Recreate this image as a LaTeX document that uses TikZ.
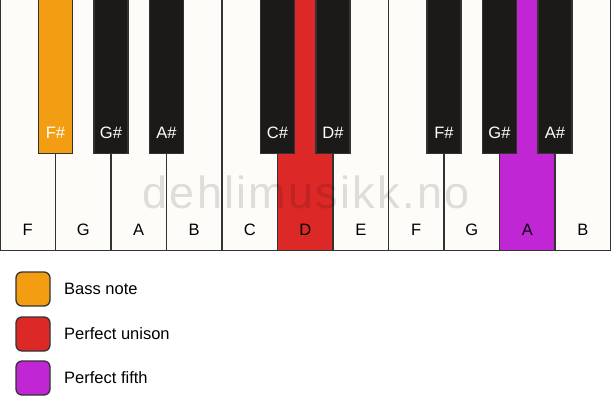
\documentclass[tikz,border=0pt]{standalone}
\usepackage{fontspec}
\setmainfont{Liberation Sans}
\definecolor{keywhite}{HTML}{FDFCF9}
\definecolor{keyblack}{HTML}{1B1A19}
\definecolor{keyedge}{HTML}{333333}
\definecolor{bassorange}{HTML}{F39E12}
\definecolor{unisonred}{HTML}{DD2828}
\definecolor{fifthpurple}{HTML}{C026D3}
\tikzset{
  whitekey/.style={draw=keyedge, line width=1.3pt, fill=keywhite, minimum width=55.5pt, minimum height=255pt, inner sep=0pt, anchor=north},
  blackkey/.style={draw=keyedge, line width=1.3pt, fill=keyblack, minimum width=34pt, minimum height=158pt, inner sep=0pt, anchor=north},
  keylabel/.style={font=\fontsize{16.5}{19}\selectfont, inner sep=0pt},
  legendbox/.style={draw=keyedge, line width=1.3pt, rounded corners=6pt, minimum size=34pt, inner sep=0pt},
}
\begin{document}
\begin{tikzpicture}[x=1pt,y=-1pt]
  \useasboundingbox (0,0) rectangle (611,417);
  % white keys
  \foreach \n/\name/\col [count=\i from 0] in {F1/F/keywhite, G1/G/keywhite, A1/A/keywhite, B1/B/keywhite, C2/C/keywhite, D2/D/unisonred, E2/E/keywhite, F2/F/keywhite, G2/G/keywhite, A2/A/fifthpurple, B2/B/keywhite}{
    \node[whitekey, fill=\col] (\n) at (27.75+55.5*\i,-5) {};
    \node[keylabel] (\n-l) at (27.75+55.5*\i,230) {\name};
  }
  % black keys
  \foreach \n/\name/\col/\x in {Fs1/F\#/bassorange/55.5, Gs1/G\#/keyblack/111, As1/A\#/keyblack/166.5, Cs2/C\#/keyblack/277.5, Ds2/D\#/keyblack/333, Fs2/F\#/keyblack/444, Gs2/G\#/keyblack/499.5, As2/A\#/keyblack/555}{
    \node[blackkey, fill=\col] (\n) at (\x,-5) {};
    \node[keylabel, text=white] (\n-l) at (\x,133) {\name};
  }
  \node[font=\fontsize{45}{50}\selectfont\addfontfeature{LetterSpace=5}, text=black, text opacity=0.12, inner sep=0pt] (mark) at (306,192) {dehlimusikk.no};
  % legend
  \node[legendbox, fill=bassorange] (bass) at (33,289) {};
  \node[legendbox, fill=unisonred] (unison) at (33,334) {};
  \node[legendbox, fill=fifthpurple] (fifth) at (33,378) {};
  \node[keylabel, anchor=west] (bass-t) at (64,289) {Bass note};
  \node[keylabel, anchor=west] (unison-t) at (64,334) {Perfect unison};
  \node[keylabel, anchor=west] (fifth-t) at (64,378) {Perfect fifth};
\end{tikzpicture}
\end{document}
